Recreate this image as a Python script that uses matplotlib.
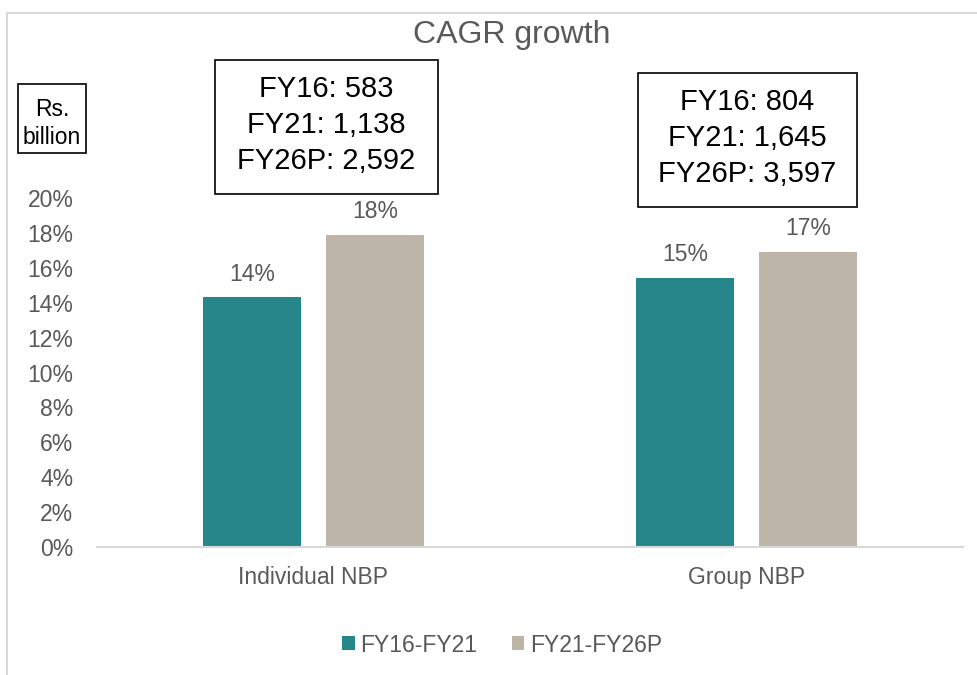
import matplotlib
matplotlib.use("Agg")
import matplotlib.pyplot as plt
from matplotlib.lines import Line2D
from matplotlib.patches import Rectangle

plt.rcParams['font.family'] = ['Liberation Sans', 'DejaVu Sans']

categories = ["Individual NBP", "Group NBP"]
series_names = ["FY16-FY21", "FY21-FY26P"]
cagr_fy16_fy21 = [14.3, 15.4]
cagr_fy21_fy26 = [17.9, 16.9]
box_texts = ["FY16: 583\nFY21: 1,138\nFY26P: 2,592",
             "FY16: 804\nFY21: 1,645\nFY26P: 3,597"]
unit_text = "Rs.\nbillion"
yticks = list(range(0, 21, 2))

teal = "#27868A"
beige = "#BEB5A9"
grey = "#595959"

fig = plt.figure(figsize=(9.78, 6.75), dpi=100)
W, H = 978, 675

def fx(px):
    return px / W

def fy(py):
    return 1 - py / H

# chart-area outline
fig.add_artist(Line2D([fx(7), fx(7)], [fy(13), fy(675)], color="#D9D9D9", lw=1.5))
fig.add_artist(Line2D([fx(7), fx(978)], [fy(13), fy(13)], color="#D9D9D9", lw=1.5))

ax = fig.add_axes([fx(97), fy(547), fx(963) - fx(97), fy(198) - fy(547)])
x = list(range(len(categories)))
width = 0.227
off = 0.142
b1 = ax.bar([i - off for i in x], cagr_fy16_fy21, width, color=teal, label=series_names[0])
b2 = ax.bar([i + off for i in x], cagr_fy21_fy26, width, color=beige, label=series_names[1])

for bars, vals in ((b1, cagr_fy16_fy21), (b2, cagr_fy21_fy26)):
    for rect, v in zip(bars, vals):
        ax.annotate(f"{v:.0f}%", (rect.get_x() + rect.get_width() / 2, v),
                    xytext=(0, 8.5), textcoords="offset points",
                    ha="center", va="bottom", fontsize=16.5, color=grey)

ax.set_xlim(-0.5, 1.5)
ax.set_ylim(0, 20)
ax.set_yticks(yticks)
ax.set_yticklabels([f"{t}%" for t in yticks])
ax.set_xticks(x)
ax.set_xticklabels(categories)
ax.tick_params(axis="y", length=0, labelsize=16.5, labelcolor=grey, pad=17)
ax.tick_params(axis="x", length=0, labelsize=16.5, labelcolor=grey, pad=14)
for s in ("top", "right", "left"):
    ax.spines[s].set_visible(False)
ax.spines["bottom"].set_color("#D9D9D9")
ax.spines["bottom"].set_linewidth(1.5)

fig.text(fx(512), fy(35), "CAGR growth", ha="center", va="center",
         fontsize=23, color=grey)

def boxed(x0, y0, x1, y1, text, size, ls, dy=0):
    fig.add_artist(Rectangle((fx(x0), fy(y1)), fx(x1) - fx(x0), fy(y0) - fy(y1),
                             fill=False, edgecolor="black", lw=1.2))
    fig.text((fx(x0) + fx(x1)) / 2, (fy(y0 + dy) + fy(y1 + dy)) / 2, text,
             ha="center", va="center", fontsize=size, color="black",
             linespacing=ls)

boxed(18, 84, 86, 153, unit_text, 16.5, 1.3, dy=5)
boxed(215, 60, 438, 194, box_texts[0], 21, 1.35, dy=-2)
boxed(638, 73, 857, 207, box_texts[1], 21, 1.35, dy=-2)

fig.legend(handles=[b1, b2], labels=series_names, loc="center",
           bbox_to_anchor=(fx(502), fy(645)), ncol=2, frameon=False,
           fontsize=16.5, labelcolor=grey, handlelength=0.55, handleheight=0.55,
           handletextpad=0.25, columnspacing=1.5)

fig.savefig("out.png", dpi=100)
